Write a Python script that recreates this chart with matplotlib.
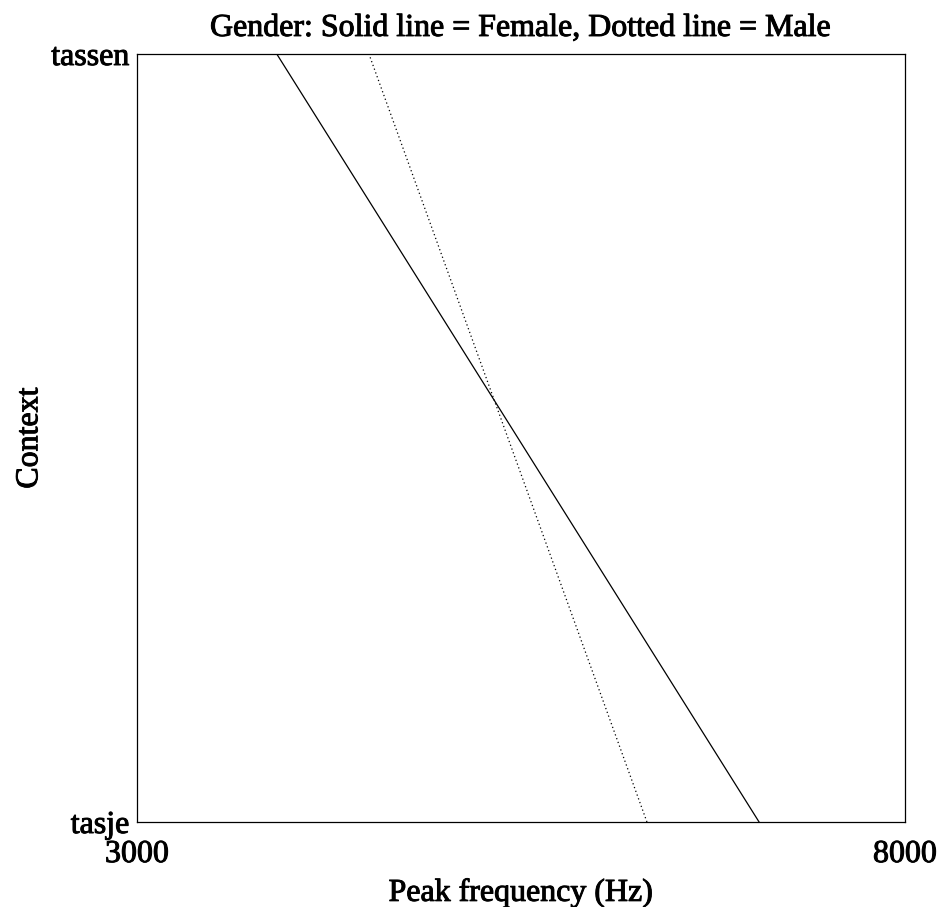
import matplotlib
matplotlib.use("Agg")
import matplotlib.pyplot as plt
import matplotlib.patheffects as pe

# Data
contexts = ["tasje", "tassen"]
female_freq = [7050, 3910]   # solid line, at tasje (bottom) and tassen (top)
male_freq = [6320, 4510]     # dotted line
x_ticks = [3000, 8000]
x_tick_labels = ["3000", "8000"]

plt.rcParams['font.family'] = ['Liberation Serif', 'DejaVu Serif']
FS = 23
thick = [pe.withStroke(linewidth=0.7, foreground='black')]

fig = plt.figure(figsize=(9.4, 9.07), dpi=100)
ax = fig.add_axes([137/940, 1 - 822/907, (905-137)/940, (822-54)/907])

ypos = [0, 1]
ax.plot(female_freq, ypos, color='black', linewidth=0.9, linestyle='-')
ax.plot(male_freq, ypos, color='black', linewidth=0.9, linestyle=(0, (1, 2.2)))

ax.set_xlim(3000, 8000)
ax.set_ylim(0, 1)
ax.set_xticks(x_ticks)
ax.set_xticklabels(x_tick_labels, fontsize=FS)
ax.set_yticks(ypos)
ax.set_yticklabels(contexts, fontsize=FS)
ax.tick_params(axis='x', length=0, pad=13)
ax.tick_params(axis='y', length=0, pad=5.5)
for sp in ax.spines.values():
    sp.set_linewidth(0.9)

t = ax.set_title("Gender: Solid line = Female, Dotted line = Male", fontsize=FS, pad=13)
xl = ax.set_xlabel("Peak frequency (Hz)", fontsize=FS, labelpad=7)
yl = ax.set_ylabel("Context", fontsize=FS, labelpad=5)
for txt in [t, xl, yl] + ax.get_xticklabels() + ax.get_yticklabels():
    txt.set_path_effects(thick)

fig.savefig("out.png", dpi=100)
